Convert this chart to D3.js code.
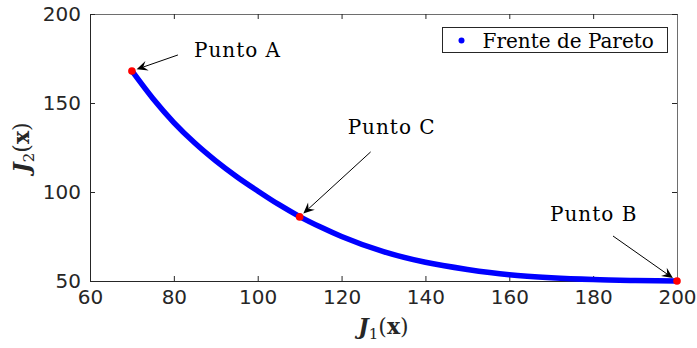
<!DOCTYPE html>
<html>
<head>
<meta charset="utf-8">
<script src="https://cdn.jsdelivr.net/npm/d3@7"></script>
<style>
  body { margin: 0; background: #fff; }
  svg { display: block; }
</style>
</head>
<body>
<div id="chart"></div>
<script>
// Pareto front values
const j1Values = [70, 75, 80, 85, 90, 95, 100, 105, 110, 115, 120, 130, 140, 150, 160, 170, 180, 190, 200];
const j2Values = [168, 152.5, 139, 127.5, 117.5, 108.6, 100.6, 93, 86.2, 80.3, 75, 66.5, 60.5, 56.5, 53.5, 51.8, 50.8, 50.3, 50];

const pointNames = ["Punto A", "Punto C", "Punto B"];
const pointJ1 = [70, 110, 200];
const pointJ2 = [168, 86, 50];

const xTicks = [60, 80, 100, 120, 140, 160, 180, 200];
const yTicks = [50, 100, 150, 200];
const legendLabel = "Frente de Pareto";

const width = 697, height = 348;
const margin = {top: 14, right: 20, bottom: 67, left: 90};
const axisColor = "#262626";

const svg = d3.select("#chart").append("svg")
    .attr("width", width)
    .attr("height", height);

const x = d3.scaleLinear().domain([60, 200]).range([margin.left, width - margin.right]);
const y = d3.scaleLinear().domain([50, 200]).range([height - margin.bottom, margin.top]);

// box + ticks (matlab style, ticks inside and mirrored)
svg.append("g")
    .attr("transform", "translate(0," + y(50) + ")")
    .call(d3.axisBottom(x).tickValues(xTicks).tickSizeInner(-5).tickSizeOuter(0).tickPadding(9))
svg.append("g")
    .attr("class", "mirror")
    .attr("transform", "translate(0," + y(200) + ")")
    .call(d3.axisTop(x).tickValues(xTicks).tickSizeInner(-5).tickSizeOuter(0).tickFormat(""))
svg.append("g")
    .attr("transform", "translate(" + x(60) + ",0)")
    .call(d3.axisLeft(y).tickValues(yTicks).tickSizeInner(-5).tickSizeOuter(0).tickPadding(9))
svg.append("g")
    .attr("class", "mirror")
    .attr("transform", "translate(" + x(200) + ",0)")
    .call(d3.axisRight(y).tickValues(yTicks).tickSizeInner(-5).tickSizeOuter(0).tickFormat(""))

svg.selectAll(".domain, .tick line").attr("stroke", axisColor).attr("stroke-width", 1)
svg.selectAll(".mirror .domain").attr("stroke", "#6e6e6e")
svg.selectAll(".tick text")
    .attr("fill", axisColor)
    .style("font-family", "'DejaVu Sans', sans-serif")
    .style("font-size", "20px")

// pareto front
const frontData = j1Values.map((v, i) => ({j1: v, j2: j2Values[i]}))
const line = d3.line()
    .x(d => x(d.j1))
    .y(d => y(d.j2))
    .curve(d3.curveMonotoneX)

svg.append("path")
    .datum(frontData)
    .attr("d", line)
    .attr("fill", "none")
    .attr("stroke", "#0000ff")
    .attr("stroke-width", 5.5)
    .attr("stroke-linecap", "round")

// annotations: text offset and arrow tail offset (pixels) relative to the point
const annot = {
    "Punto A": {tx: 62, ty: -14, ax: 46, ay: -16},
    "Punto C": {tx: 48, ty: -83, ax: 71, ay: -65},
    "Punto B": {tx: -127, ty: -60, ax: -64, ay: -45}
}

const pts = pointNames.map((n, i) => ({name: n, j1: pointJ1[i], j2: pointJ2[i]}))

function arrowHead(x1, y1, x2, y2) {
    // tip at (x2,y2), stopping short of the marker
    const ang = Math.atan2(y2 - y1, x2 - x1)
    const tipX = x2 - 5 * Math.cos(ang), tipY = y2 - 5 * Math.sin(ang)
    const len = 11, half = 5, notch = 7
    const bx = tipX - len * Math.cos(ang), by = tipY - len * Math.sin(ang)
    const nx = tipX - notch * Math.cos(ang), ny = tipY - notch * Math.sin(ang)
    const px = -Math.sin(ang), py = Math.cos(ang)
    return {
        tipX, tipY, nx, ny,
        d: "M" + tipX + "," + tipY +
           "L" + (bx + px * half) + "," + (by + py * half) +
           "L" + nx + "," + ny +
           "L" + (bx - px * half) + "," + (by - py * half) + "Z"
    }
}

const ann = svg.append("g")
pts.forEach(p => {
    const a = annot[p.name]
    const px = x(p.j1), py = y(p.j2)
    const h = arrowHead(px + a.ax, py + a.ay, px, py)
    ann.append("line")
        .attr("x1", px + a.ax).attr("y1", py + a.ay)
        .attr("x2", h.nx).attr("y2", h.ny)
        .attr("stroke", "#000").attr("stroke-width", 1)
    ann.append("path").attr("d", h.d).attr("fill", "#000")
    ann.append("text")
        .attr("x", px + a.tx).attr("y", py + a.ty)
        .style("font-family", "'DejaVu Serif', serif")
        .style("font-size", "20px")
        .style("letter-spacing", "1px")
        .attr("fill", "#000")
        .text(p.name)
})

svg.selectAll("circle.pt")
    .data(pts)
    .enter()
    .append("circle")
    .attr("class", "pt")
    .attr("cx", d => x(d.j1))
    .attr("cy", d => y(d.j2))
    .attr("r", 3.8)
    .attr("fill", "#ff0000")

// legend
const legend = svg.append("g").attr("transform", "translate(442.5,27.5)")
legend.append("rect")
    .attr("width", 225).attr("height", 25)
    .attr("fill", "#fff").attr("stroke", axisColor).attr("stroke-width", 1)
legend.append("circle").attr("cx", 19).attr("cy", 13).attr("r", 3).attr("fill", "#0000ff")
legend.append("text")
    .attr("x", 40).attr("y", 20)
    .style("font-family", "'DejaVu Serif', serif")
    .style("font-size", "20px")
    .text(legendLabel)

// axis labels  J1(x), J2(x)
function axisLabel(g, sub) {
    const t = g.append("text")
        .attr("text-anchor", "middle")
        .style("font-family", "'DejaVu Serif', serif")
        .style("font-size", "22px")
        .attr("fill", "#262626")
    t.append("tspan").style("font-weight", "bold").style("font-style", "italic").text("J")
    t.append("tspan").attr("dy", 5).style("font-size", "15px").text(sub)
    t.append("tspan").attr("dy", -5).text("(")
    t.append("tspan").style("font-weight", "bold").text("x")
    t.append("tspan").text(")")
    return t
}

axisLabel(svg.append("g").attr("transform", "translate(" + ((x(60) + x(200)) / 2) + ",334)"), "1")
axisLabel(svg.append("g").attr("transform", "translate(29," + ((y(50) + y(200)) / 2) + ") rotate(-90)"), "2")
</script>
</body>
</html>
